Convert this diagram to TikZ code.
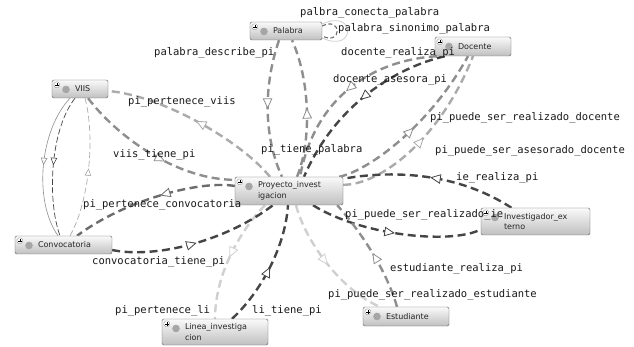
\documentclass[tikz,border=0pt]{standalone}
\usepackage{fontspec}
\setsansfont{DejaVu Sans}
\setmonofont{DejaVu Sans Mono}
\usetikzlibrary{arrows.meta, decorations.markings, backgrounds}

\definecolor{gClaro}{HTML}{D0D0D0}
\definecolor{gSuave}{HTML}{ABABAB}
\definecolor{gMedio}{HTML}{8E8E8E}
\definecolor{gFuerte}{HTML}{6C6C6C}
\definecolor{gOscuro}{HTML}{454545}
\definecolor{borde}{HTML}{606060}

\tikzset{
  clase/.style={draw=borde, rounded corners=1.5pt, top color=white!96!gray, bottom color=gray!50,
    minimum width=#1, text width=#1-4pt, inner xsep=2pt, inner ysep=1pt,
    font=\sffamily\fontsize{8}{10.5}\selectfont, text=black!85,
    execute at begin node={\leftskip=21pt},
    path picture={
      \draw[borde, fill=white, line width=0.3pt] ([shift={(2pt,-2pt)}]path picture bounding box.north west) rectangle ++(5.5pt,-5.5pt);
      \draw[black, line width=0.45pt] ([shift={(3pt,-4.75pt)}]path picture bounding box.north west) -- ++(3.5pt,0pt)
        ([shift={(4.75pt,-3pt)}]path picture bounding box.north west) -- ++(0pt,-3.5pt);
      \fill[gray!70] ([shift={(14pt,-9.5pt)}]path picture bounding box.north west) circle (3.8pt);
    }},
  rel/.style={color=#1, line width=2.4pt, dash pattern=on 8pt off 4.5pt},
  fina/.style={color=#1, line width=0.7pt},
  medio/.style={postaction={decorate}, decoration={markings, mark=at position #1 with {\arrow{Triangle[fill=white, line width=0.8pt, length=10.5pt, width=9.5pt]}}}},
  medio/.default=0.5,
  mediofino/.style={postaction={decorate}, decoration={markings, mark=at position #1 with {\arrow{Triangle[fill=white, line width=0.6pt, length=7.5pt, width=6.5pt]}}}},
  mediofino/.default=0.5,
  etiqueta/.style={font=\ttfamily\fontsize{10.5}{12}\selectfont, anchor=west, inner sep=0pt, text=black!90}
}

\begin{document}
\begin{tikzpicture}[x=1pt, y=-1pt]
  \useasboundingbox (0,0) rectangle (634,347);

  % clases
  \node[clase=72pt, minimum height=18pt] (palabra) at (286,31) {Palabra};
  \node[clase=76pt, minimum height=19pt] (docente) at (473,46.5) {Docente};
  \node[clase=56pt, minimum height=18pt] (viis) at (80,89) {VIIS};
  \node[clase=108pt, minimum height=28pt] (proyecto) at (289,191) {Proyecto\_invest\\igacion};
  \node[clase=97pt, minimum height=18pt] (convocatoria) at (63.5,245) {Convocatoria};
  \node[clase=109pt, minimum height=27pt] (investigador) at (535.5,221.5) {Investigador\_ex\\terno};
  \node[clase=86pt, minimum height=19pt] (estudiante) at (406,316.5) {Estudiante};
  \node[clase=106pt, minimum height=26pt] (linea) at (215,332) {Linea\_investiga\\cion};

  \begin{scope}[on background layer]
    \fill[white] (0,0) rectangle (634,347);

    % palabra
    \draw[rel=gMedio, medio] ([xshift=-7pt]palabra.south) .. controls (262,90) and (265,140) .. ([xshift=-7pt]proyecto.north);
    \draw[rel=gMedio, medio] ([xshift=8pt]proyecto.north) .. controls (312,140) and (310,80) .. ([xshift=6pt]palabra.south);
    \draw[gFuerte, line width=1.1pt, dash pattern=on 4pt off 2.5pt] ([yshift=5pt]palabra.east) .. controls +(20,-10) and +(20,10) .. ([yshift=-5pt]palabra.east);
    \draw[gClaro, line width=0.8pt] ([yshift=7pt]palabra.east) .. controls +(34,-16) and +(34,16) .. ([yshift=-7pt]palabra.east);

    % docente
    \draw[rel=gMedio, medio] ([xshift=2pt]docente.south west) .. controls (375,60) and (315,95) .. ([xshift=11pt]proyecto.north);
    \draw[rel=gOscuro, medio] ([xshift=10pt]docente.south west) .. controls (395,68) and (335,105) .. ([xshift=15pt]proyecto.north);
    \draw[rel=gMedio, medio] ([xshift=-4pt]proyecto.north east) .. controls (370,170) and (430,125) .. ([xshift=-5pt]docente.south);
    \draw[rel=gSuave, medio] ([yshift=-8pt]proyecto.north east) .. controls (380,185) and (440,140) .. (docente.south);

    % investigador externo
    \draw[rel=gOscuro, medio] ([xshift=-24pt]investigador.north) .. controls (450,168) and (380,172) .. ([yshift=-2pt]proyecto.north east);
    \draw[rel=gOscuro, medio] ([xshift=24pt]proyecto.south) .. controls (360,235) and (450,245) .. ([yshift=-8pt]investigador.west);

    % estudiante
    \draw[rel=gMedio, medio] ([xshift=-9pt]estudiante.north) .. controls (385,265) and (355,225) .. ([xshift=-6pt]proyecto.south east);
    \draw[rel=gClaro, medio] ([xshift=7pt]proyecto.south) .. controls (305,240) and (340,290) .. ([xshift=-26pt]estudiante.north);

    % linea de investigacion
    \draw[rel=gOscuro, medio] ([xshift=17pt]linea.north) .. controls (258,295) and (285,250) .. ([xshift=-1pt]proyecto.south);
    \draw[rel=gClaro, medio] ([xshift=-24pt]proyecto.south) .. controls (245,225) and (215,270) .. (linea.north);

    % convocatoria
    \draw[rel=gOscuro, medio] ([yshift=-5pt]convocatoria.east) .. controls (150,258) and (220,245) .. ([xshift=-16pt]proyecto.south);
    \draw[rel=gFuerte, medio=0.45] ([yshift=5pt]proyecto.west) .. controls (200,180) and (125,200) .. ([xshift=13.5pt]convocatoria.north);

    % viis
    \draw[rel=gMedio, medio=0.58] ([xshift=8pt]viis.south) .. controls (120,140) and (180,180) .. ([yshift=-3pt]proyecto.north west);
    \draw[rel=gSuave, medio] ([xshift=-19pt]proyecto.north) .. controls (240,140) and (160,95) .. ([yshift=-2pt]viis.east);

    % viis y convocatoria
    \draw[fina=gMedio, line width=0.6pt, mediofino] ([xshift=-10pt]viis.south) .. controls (40,130) and (33,200) .. ([xshift=-5.5pt]convocatoria.north);
    \draw[fina=gOscuro, dash pattern=on 6pt off 2.5pt, mediofino] ([xshift=-5pt]viis.south) .. controls (50,130) and (47,200) .. ([xshift=-3.5pt]convocatoria.north);
    \draw[fina=gSuave, dash pattern=on 6pt off 3pt, mediofino] ([xshift=6.5pt]convocatoria.north) .. controls (90,200) and (95,135) .. ([xshift=5pt]viis.south);
  \end{scope}

  % etiquetas
  \node[etiqueta] (eConecta) at (300,13) {palbra\_conecta\_palabra};
  \node[etiqueta] (eSinonimo) at (338,29) {palabra\_sinonimo\_palabra};
  \node[etiqueta] (eDocRealiza) at (341,53) {docente\_realiza\_pi};
  \node[etiqueta] (eDocAsesora) at (333,80) {docente\_asesora\_pi};
  \node[etiqueta] (ePiRealizadoDoc) at (430,118) {pi\_puede\_ser\_realizado\_docente};
  \node[etiqueta] (ePiAsesoradoDoc) at (435,151) {pi\_puede\_ser\_asesorado\_docente};
  \node[etiqueta] (eIeRealiza) at (456,178) {ie\_realiza\_pi};
  \node[etiqueta] (ePiRealizadoIe) at (345,215) {pi\_puede\_ser\_realizado\_ie};
  \node[etiqueta] (eEstRealiza) at (390,269) {estudiante\_realiza\_pi};
  \node[etiqueta] (ePiRealizadoEst) at (328,295) {pi\_puede\_ser\_realizado\_estudiante};
  \node[etiqueta] (eLiTiene) at (252,311) {li\_tiene\_pi};
  \node[etiqueta] (ePiLi) at (115,311) {pi\_pertenece\_li};
  \node[etiqueta] (eConvTiene) at (92,262) {convocatoria\_tiene\_pi};
  \node[etiqueta] (ePiConv) at (83,205) {pi\_pertenece\_convocatoria};
  \node[etiqueta] (eViisTiene) at (113,155) {viis\_tiene\_pi};
  \node[etiqueta] (ePiViis) at (128,102) {pi\_pertenece\_viis};
  \node[etiqueta] (eDescribe) at (154,53) {palabra\_describe\_pi};
  \node[etiqueta] (eTienePalabra) at (261,150) {pi\_tiene\_palabra};
\end{tikzpicture}
\end{document}
